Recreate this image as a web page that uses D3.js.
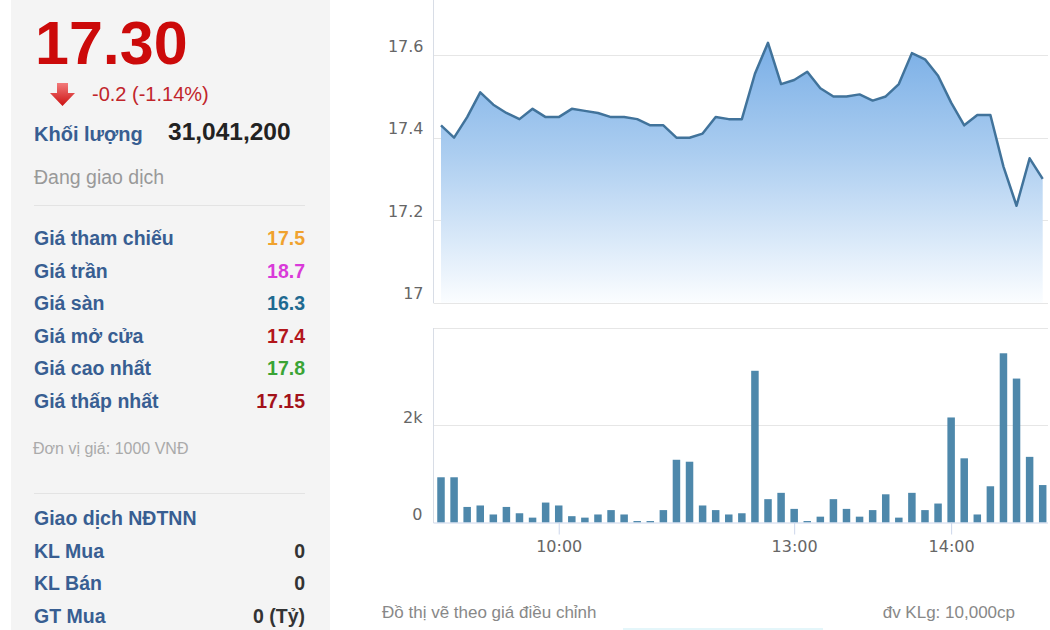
<!DOCTYPE html>
<html><head><meta charset="utf-8">
<script src="https://cdn.jsdelivr.net/npm/d3@7"></script>
<style>
body{margin:0;background:#fff;overflow:hidden;}
svg{display:block;}
</style>
</head><body>
<svg id="c" width="1050" height="630"></svg>
<script>
// ---- DATA ----
const times = ["09:15","09:20","09:25","09:30","09:35","09:40","09:45","09:50","09:55","10:00",
  "10:05","10:10","10:15","10:20","10:25","10:30","10:35","10:40","10:45","10:50",
  "10:55","11:00","11:05","11:10","11:15","11:20","11:25","11:30",
  "13:05","13:10","13:15","13:20","13:25","13:30","13:35","13:40","13:45","13:50",
  "13:55","14:00","14:05","14:10","14:15","14:20","14:25","14:30","14:35"];
const prices = [17.43,17.40,17.45,17.51,17.48,17.46,17.445,17.47,17.45,17.45,
  17.47,17.465,17.46,17.45,17.45,17.445,17.43,17.43,17.40,17.40,
  17.41,17.45,17.445,17.445,17.555,17.63,17.53,17.54,
  17.56,17.52,17.50,17.50,17.505,17.49,17.50,17.53,17.605,17.59,
  17.55,17.485,17.43,17.455,17.455,17.33,17.235,17.35,17.30];
const volumes = [930,930,320,350,165,320,190,100,410,350,
  130,100,165,255,165,30,30,255,1290,1250,
  350,255,165,190,3120,480,610,280,
  30,120,480,280,120,255,580,100,610,255,
  390,2160,1320,165,745,3480,2960,1350,770];
const priceTicks = [17, 17.2, 17.4, 17.6];
const volumeTicks = [0, 2000, 4000];
const volumeTickLabels = ["0", "2k", ""];
const timeTicks = ["10:00", "13:00", "14:00"];

const lastPrice = "17.30";
const change = "-0.2 (-1.14%)";
const volumeLabel = "Khối lượng";
const totalVolume = "31,041,200";
const status = "Đang giao dịch";
const infoLabels = ["Giá tham chiếu","Giá trần","Giá sàn","Giá mở cửa","Giá cao nhất","Giá thấp nhất"];
const infoValues = ["17.5","18.7","16.3","17.4","17.8","17.15"];
const unitNote = "Đơn vị giá: 1000 VNĐ";
const foreignTitle = "Giao dịch NĐTNN";
const foreignLabels = ["KL Mua","KL Bán","GT Mua"];
const foreignValues = ["0","0","0 (Tỷ)"];
const footLeft = "Đồ thị vẽ theo giá điều chỉnh";
const footRight = "đv KLg: 10,000cp";

// ---- STYLE ----
const infoColors = ["#f0a22e","#d93ad9","#1f6a91","#b3161b","#3aa435","#a3121a"];
const labelBlue = "#385e92";
const arial = "'Liberation Sans', Arial, sans-serif";
const tickFont = "'DejaVu Sans', Verdana, sans-serif";

const svg = d3.select("#c");

// ---- LEFT PANEL ----
svg.append("rect").attr("x",11).attr("y",0).attr("width",319).attr("height",630).attr("fill","#f4f4f4");

svg.append("text").attr("x",35).attr("y",63.5).attr("font-family",arial).attr("font-weight","bold")
  .attr("font-size",61).attr("fill","#cc0a0a").text(lastPrice);

const ag = svg.append("defs").append("linearGradient").attr("id","arr").attr("x1",0).attr("y1",0).attr("x2",0).attr("y2",1);
ag.append("stop").attr("offset","0").attr("stop-color","#f27a7a");
ag.append("stop").attr("offset","1").attr("stop-color","#cc1111");
svg.append("path").attr("d","M57,83 L68,83 L68,93 L75,93 L62.5,106 L50,93 L57,93 Z").attr("fill","url(#arr)");

svg.append("text").attr("x",92).attr("y",101).attr("font-family",arial).attr("font-size",20)
  .attr("fill","#c1252b").text(change);

svg.append("text").attr("x",34).attr("y",141).attr("font-family",arial).attr("font-weight","bold")
  .attr("font-size",20).attr("fill",labelBlue).text(volumeLabel);
svg.append("text").attr("x",168).attr("y",140).attr("font-family",arial).attr("font-weight","bold")
  .attr("font-size",24.5).attr("fill","#222").text(totalVolume);

svg.append("text").attr("x",34).attr("y",184).attr("font-family",arial).attr("font-size",19.5)
  .attr("fill","#999").text(status);

svg.append("line").attr("x1",34).attr("x2",305).attr("y1",205.5).attr("y2",205.5).attr("stroke","#e3e3e3");

const rowY = d3.scaleLinear().domain([0,5]).range([245,408]);
svg.selectAll("text.il").data(infoLabels).enter().append("text").attr("class","il")
  .attr("x",34).attr("y",(d,i)=>rowY(i)).attr("font-family",arial).attr("font-weight","bold")
  .attr("font-size",19.5).attr("fill",labelBlue).text(d=>d);
svg.selectAll("text.iv").data(infoValues).enter().append("text").attr("class","iv")
  .attr("x",305).attr("y",(d,i)=>rowY(i)).attr("text-anchor","end").attr("font-family",arial).attr("font-weight","bold")
  .attr("font-size",19.5).attr("fill",(d,i)=>infoColors[i]).text(d=>d);

svg.append("text").attr("x",33).attr("y",454).attr("font-family",arial).attr("font-size",16)
  .attr("fill","#aaa").text(unitNote);

svg.append("line").attr("x1",34).attr("x2",305).attr("y1",493.5).attr("y2",493.5).attr("stroke","#e3e3e3");

svg.append("text").attr("x",34).attr("y",525).attr("font-family",arial).attr("font-weight","bold")
  .attr("font-size",19.5).attr("fill",labelBlue).text(foreignTitle);
const fY = d3.scaleLinear().domain([0,2]).range([557.5,622.5]);
svg.selectAll("text.fl").data(foreignLabels).enter().append("text").attr("class","fl")
  .attr("x",34).attr("y",(d,i)=>fY(i)).attr("font-family",arial).attr("font-weight","bold")
  .attr("font-size",19.5).attr("fill",labelBlue).text(d=>d);
svg.selectAll("text.fv").data(foreignValues).enter().append("text").attr("class","fv")
  .attr("x",305).attr("y",(d,i)=>fY(i)).attr("text-anchor","end").attr("font-family",arial).attr("font-weight","bold")
  .attr("font-size",19.5).attr("fill","#333").text(d=>d);

// ---- CHARTS ----
function tradeMin(t){
  const [h,m] = t.split(":").map(Number);
  let v = h*60 + m - (9*60+15);
  if (h >= 13) v -= 90;
  return v;
}
const plotL = 433.5, plotR = 1048;
const x = d3.scaleLinear().domain([0,230]).range([441,1042.7]);
const yP = d3.scaleLinear().domain([17,17.8]).range([302.7,-27.3]);
const yV = d3.scaleLinear().domain([0,4000]).range([522.5,328]);

const grad = svg.select("defs").append("linearGradient").attr("id","fillg")
  .attr("gradientUnits","userSpaceOnUse").attr("x1",0).attr("x2",0).attr("y1",30).attr("y2",303);
grad.append("stop").attr("offset","0").attr("stop-color","#74abe5");
grad.append("stop").attr("offset","0.45").attr("stop-color","#abcdf0");
grad.append("stop").attr("offset","1").attr("stop-color","#fbfdff");

// price gridlines
svg.selectAll("line.pg").data(priceTicks).enter().append("line").attr("class","pg")
  .attr("x1",plotL).attr("x2",plotR).attr("y1",d=>Math.round(yP(d))+0.5).attr("y2",d=>Math.round(yP(d))+0.5)
  .attr("stroke","#e6e6e6").attr("stroke-width",1);

const pts = times.map((t,i)=>({m:tradeMin(t), p:prices[i], v:volumes[i]}));
svg.append("path").datum(pts)
  .attr("d", d3.area().x(d=>x(d.m)).y0(yP(17)).y1(d=>yP(d.p)))
  .attr("fill","url(#fillg)");
svg.append("path").datum(pts)
  .attr("d", d3.line().x(d=>x(d.m)).y(d=>yP(d.p)))
  .attr("fill","none").attr("stroke","#41739b").attr("stroke-width",2.5).attr("stroke-linejoin","round");

// price axis left line
svg.append("line").attr("x1",plotL).attr("x2",plotL).attr("y1",0).attr("y2",303).attr("stroke","#d8dde6");

const ax1 = svg.append("g").attr("transform",`translate(${plotL},0)`)
  .call(d3.axisLeft(yP).tickValues(priceTicks).tickSize(0).tickPadding(10).tickFormat(d=>String(+d.toFixed(1))));
ax1.select(".domain").remove();
ax1.selectAll("text").attr("dy","-4px").attr("fill","#666").attr("font-family",tickFont).attr("font-size",16);

// volume gridlines
svg.selectAll("line.vg").data(volumeTicks.slice(1)).enter().append("line").attr("class","vg")
  .attr("x1",plotL).attr("x2",plotR).attr("y1",d=>Math.round(yV(d))+0.5).attr("y2",d=>Math.round(yV(d))+0.5)
  .attr("stroke","#e6e6e6");

svg.selectAll("rect.bar").data(pts).enter().append("rect").attr("class","bar")
  .attr("x",d=>x(d.m)-3.75).attr("width",7.5)
  .attr("y",d=>yV(d.v)).attr("height",d=>yV(0)-yV(d.v)).attr("fill","#4e88ab");

svg.append("line").attr("x1",plotL).attr("x2",plotL).attr("y1",328).attr("y2",523).attr("stroke","#d8dde6");

const ax2 = svg.append("g").attr("transform",`translate(${plotL},0)`)
  .call(d3.axisLeft(yV).tickValues(volumeTicks).tickSize(0).tickPadding(11).tickFormat((d,i)=>volumeTickLabels[i]));
ax2.select(".domain").remove();
ax2.selectAll("text").attr("dy","-3px").attr("fill","#666").attr("font-family",tickFont).attr("font-size",16);

const ax3 = svg.append("g").attr("transform",`translate(0,${yV(0)})`)
  .call(d3.axisBottom(x).tickValues(timeTicks.map(tradeMin)).tickSize(12).tickPadding(6).tickFormat((d,i)=>timeTicks[i]));
ax3.select(".domain").attr("d",`M${plotL},0.5H${plotR}`).attr("stroke","#ccd6eb");
ax3.selectAll(".tick line").attr("stroke","#ccd6eb");
ax3.selectAll("text").attr("fill","#666").attr("font-family",tickFont).attr("font-size",16);

// footer
svg.append("text").attr("x",382).attr("y",618).attr("font-family",arial).attr("font-size",17)
  .attr("fill","#888").text(footLeft);
svg.append("text").attr("x",1015).attr("y",618).attr("text-anchor","end").attr("font-family",arial).attr("font-size",17)
  .attr("fill","#888").text(footRight);
svg.append("rect").attr("x",623).attr("y",628).attr("width",200).attr("height",2).attr("fill","#e4f6fa");
</script>
</body></html>
